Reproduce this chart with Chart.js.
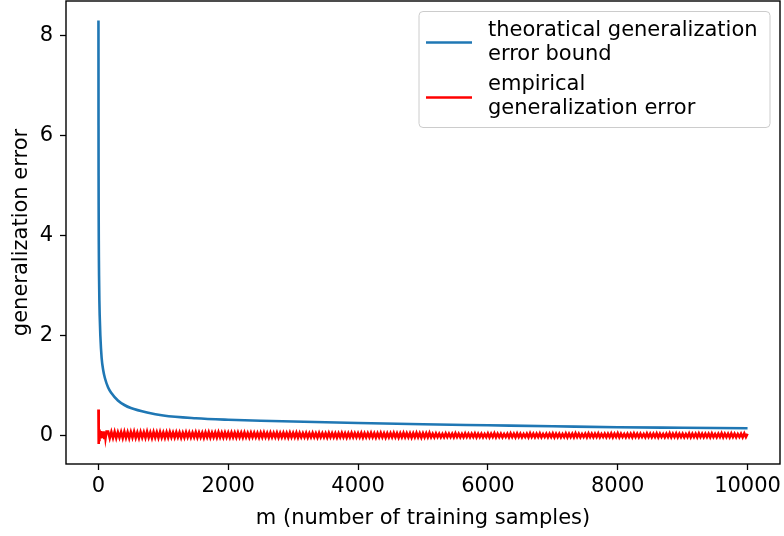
<!DOCTYPE html>
<html>
<head>
<meta charset="utf-8">
<script src="https://cdn.jsdelivr.net/npm/chart.js@4.4.1/dist/chart.umd.min.js"></script>
<style>
  html, body { margin: 0; padding: 0; background: #fff; }
  #wrap { width: 784px; height: 536px; }
</style>
</head>
<body>
<div id="wrap"><canvas id="chart" width="784" height="536"></canvas></div>
<script>
const xTicks = [0, 2000, 4000, 6000, 8000, 10000];
const yTicks = [0, 2, 4, 6, 8];

// theoretical bound
const boundM = [1, 2, 3, 4, 6, 8, 10, 15, 20, 30, 50, 75, 100, 150, 200, 300, 400, 500, 750,
    1000, 1500, 2000, 2500, 3000, 4000, 5000, 6000, 7000, 8000, 9000, 10000];
const boundErr = [8.3, 6.2, 5.2, 4.6, 3.9, 3.5, 3.2, 2.7, 2.4, 2.0, 1.55, 1.3, 1.15, 0.96, 0.85, 0.7, 0.61, 0.55, 0.46,
    0.40, 0.345, 0.315, 0.295, 0.28, 0.25, 0.225, 0.205, 0.185, 0.165, 0.155, 0.145];

// empirical error: the spike near m=0, then the noisy band
const empHeadM = [1, 2, 3, 4, 5, 6, 8, 10, 12, 15, 18, 22, 26, 30, 35, 40, 45, 50, 60, 70, 80, 90, 100, 110, 125];
const empHeadErr = [0.52, -0.17, 0.32, -0.14, 0.22, -0.1, 0.16, -0.09, 0.12, -0.08, 0.1, -0.07, 0.09,
    -0.06, 0.09, -0.06, 0.085, -0.055, 0.08, -0.05, 0.08, -0.05, 0.075, -0.05, 0.08];
const empTailStart = 150;
const empTailStep = 25;
const empTailErr = [
    0.08, -0.05, 0.07, -0.045, 0.075, -0.05, 0.065, -0.04, 0.07, -0.05,
    0.075, -0.045, 0.065, -0.05, 0.07, -0.04, 0.075, -0.045, 0.06, -0.05,
    0.07, -0.04, 0.065, -0.045, 0.075, -0.04, 0.06, -0.05, 0.07, -0.04,
    0.065, -0.045, 0.07, -0.04, 0.06, -0.045, 0.065, -0.04, 0.07, -0.035,
    0.06, -0.04, 0.065, -0.035, 0.06, -0.045, 0.055, -0.04, 0.065, -0.035,
    0.06, -0.04, 0.055, -0.035, 0.065, -0.04, 0.06, -0.035, 0.055, -0.045,
    0.06, -0.035, 0.065, -0.04, 0.055, -0.035, 0.06, -0.04, 0.065, -0.035,
    0.055, -0.04, 0.06, -0.035, 0.055, -0.04, 0.06, -0.035, 0.055, -0.04,
    0.06, -0.035, 0.055, -0.04, 0.06, -0.035, 0.05, -0.04, 0.055, -0.035,
    0.055, -0.035, 0.05, -0.04, 0.055, -0.035, 0.06, -0.035, 0.05, -0.04,
    0.055, -0.035, 0.05, -0.035, 0.055, -0.04, 0.05, -0.035, 0.055, -0.035,
    0.05, -0.04, 0.055, -0.035, 0.05, -0.035, 0.055, -0.04, 0.05, -0.035,
    0.045, -0.035, 0.05, -0.04, 0.045, -0.035, 0.05, -0.035, 0.045, -0.04,
    0.05, -0.035, 0.045, -0.035, 0.045, -0.04, 0.05, -0.035, 0.045, -0.035,
    0.045, -0.04, 0.045, -0.035, 0.05, -0.035, 0.045, -0.04, 0.045, -0.035,
    0.05, -0.035, 0.045, -0.035, 0.045, -0.035, 0.05, -0.04, 0.045, -0.035,
    0.045, -0.035, 0.05, -0.035, 0.045, -0.04, 0.045, -0.035, 0.05, -0.035,
    0.045, -0.04, 0.045, -0.035, 0.045, -0.035, 0.05, -0.035, 0.045, -0.04,
    0.045, -0.035, 0.05, -0.035, 0.045, -0.035, 0.045, -0.04, 0.045, -0.035,
    0.05, -0.035, 0.045, -0.04, 0.045, -0.035, 0.045, -0.035, 0.05, -0.035,
    0.035, -0.035, 0.04, -0.03, 0.035, -0.035, 0.03, -0.035, 0.04, -0.03,
    0.035, -0.03, 0.035, -0.035, 0.045, -0.03, 0.035, -0.035, 0.03, -0.035,
    0.04, -0.03, 0.035, -0.035, 0.035, -0.03, 0.04, -0.035, 0.035, -0.03,
    0.035, -0.035, 0.03, -0.03, 0.04, -0.035, 0.035, -0.03, 0.045, -0.035,
    0.035, -0.03, 0.035, -0.035, 0.03, -0.03, 0.035, -0.035, 0.04, -0.03,
    0.035, -0.035, 0.04, -0.03, 0.035, -0.035, 0.03, -0.03, 0.035, -0.035,
    0.045, -0.03, 0.035, -0.035, 0.035, -0.03, 0.04, -0.035, 0.03, -0.03,
    0.035, -0.035, 0.035, -0.03, 0.04, -0.035, 0.035, -0.03, 0.035, -0.035,
    0.03, -0.03, 0.04, -0.035, 0.035, -0.03, 0.035, -0.035, 0.045, -0.03,
    0.035, -0.035, 0.03, -0.03, 0.035, -0.035, 0.04, -0.03, 0.035, -0.035,
    0.035, -0.03, 0.04, -0.035, 0.03, -0.03, 0.035, -0.035, 0.035, -0.03,
    0.04, -0.035, 0.035, -0.03, 0.045, -0.035, 0.035, -0.03, 0.03, -0.035,
    0.035, -0.03, 0.035, -0.035, 0.04, -0.03, 0.035, -0.035, 0.035, -0.03,
    0.03, -0.035, 0.04, -0.03, 0.035, -0.035, 0.035, -0.03, 0.04, -0.035,
    0.035, -0.03, 0.03, -0.035, 0.035, -0.03, 0.045, -0.035, 0.035, -0.03,
    0.04, -0.035, 0.035, -0.03, 0.035, -0.035, 0.03, -0.03, 0.04, -0.035,
    0.035, -0.03, 0.035, -0.035, 0.04, -0.03, 0.035, -0.035, 0.035, -0.03,
    0.035, -0.035, 0.04, -0.03, 0.03, -0.035, 0.035, -0.03, 0.045, -0.035,
    0.035, -0.03, 0.035, -0.035, 0.04, -0.03, 0.035, -0.035, 0.03, -0.03,
    0.035, -0.035, 0.04, -0.03, 0.035
];

const legendLabels = [
    { color: '#1f77b4', lines: ['theoratical generalization', 'error bound'] },
    { color: '#ff0000', lines: ['empirical', 'generalization error'] },
];

const FONT = 'DejaVu Sans';
Chart.defaults.font.family = FONT;
Chart.defaults.font.size = 21;
Chart.defaults.color = '#000';

const boundData = boundM.map((m, i) => ({ x: m, y: boundErr[i] }));
const empData = empHeadM.map((m, i) => ({ x: m, y: empHeadErr[i] }))
    .concat(empTailErr.map((v, i) => ({ x: empTailStart + i * empTailStep, y: v })));

// labels may overhang the plot, as in matplotlib; keep the plot box where it is
const noOverhang = s => { s.paddingTop = 0; s.paddingBottom = 0; s.paddingLeft = 0; s.paddingRight = 0; };

const frameAndLegend = {
    id: 'frameAndLegend',
    afterDraw(chart) {
        const { ctx, chartArea: a } = chart;
        ctx.save();
        ctx.strokeStyle = '#000';
        ctx.lineWidth = 1.4;
        ctx.strokeRect(a.left, a.top, a.right - a.left, a.bottom - a.top);

        const bx = a.right - 361;
        const by = a.top + 10.5;
        ctx.beginPath();
        ctx.roundRect(bx, by, 351, 116, 4);
        ctx.fillStyle = 'rgba(255,255,255,0.8)';
        ctx.fill();
        ctx.strokeStyle = '#cccccc';
        ctx.lineWidth = 1;
        ctx.stroke();

        ctx.font = '21px "' + FONT + '"';
        ctx.textBaseline = 'alphabetic';
        ctx.textAlign = 'left';
        const handleY = [31, 86];
        const baselines = [[24.5, 48.5], [78.5, 102]];
        legendLabels.forEach((item, i) => {
            ctx.beginPath();
            ctx.strokeStyle = item.color;
            ctx.lineWidth = 2.5;
            ctx.moveTo(bx + 7, by + handleY[i]);
            ctx.lineTo(bx + 53, by + handleY[i]);
            ctx.stroke();
            ctx.fillStyle = '#000';
            item.lines.forEach((t, j) => ctx.fillText(t, bx + 69, by + baselines[i][j]));
        });
        ctx.restore();
    },
};

new Chart(document.getElementById('chart'), {
    type: 'line',
    data: {
        datasets: [
            {
                label: 'theoratical generalization error bound',
                data: boundData,
                borderColor: '#1f77b4',
                borderWidth: 2.6,
                pointRadius: 0,
                cubicInterpolationMode: 'monotone',
            },
            {
                label: 'empirical generalization error',
                data: empData,
                borderColor: '#ff0000',
                borderWidth: 2.6,
                pointRadius: 0,
                tension: 0,
            },
        ],
    },
    options: {
        responsive: false,
        animation: false,
        devicePixelRatio: 1,
        layout: { padding: { top: 1, right: 4, left: 0, bottom: 0 } },
        plugins: { legend: { display: false }, tooltip: { enabled: false } },
        scales: {
            x: {
                type: 'linear',
                min: -499,
                max: 10500,
                afterBuildTicks: s => { s.ticks = xTicks.map(v => ({ value: v })); },
                afterFit: s => { s.height = 72; noOverhang(s); },
                grid: { drawOnChartArea: false, tickLength: 6, tickColor: '#000', tickWidth: 1.3 },
                border: { display: false },
                ticks: { padding: 4, maxRotation: 0, color: '#000', callback: v => String(v) },
                title: { display: true, text: 'm (number of training samples)', padding: { top: 0, bottom: 5 }, color: '#000' },
            },
            y: {
                type: 'linear',
                min: -0.57,
                max: 8.69,
                afterBuildTicks: s => { s.ticks = yTicks.map(v => ({ value: v })); },
                afterFit: s => { s.width = 66; noOverhang(s); },
                grid: { drawOnChartArea: false, tickLength: 6, tickColor: '#000', tickWidth: 1.3 },
                border: { display: false },
                ticks: { padding: 7, color: '#000', callback: v => String(v) },
                title: { display: true, text: 'generalization error', padding: { top: 9, bottom: 0 }, color: '#000' },
            },
        },
    },
    plugins: [frameAndLegend],
});
</script>
</body>
</html>
